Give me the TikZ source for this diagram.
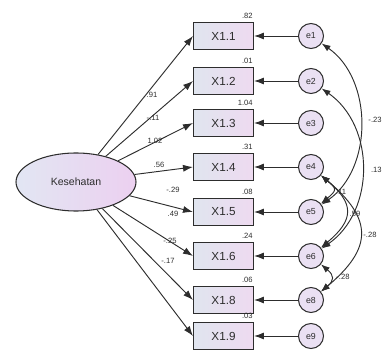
\documentclass[tikz,border=0pt]{standalone}
\usepackage{fontspec}
\setmainfont{Liberation Sans}
\usetikzlibrary{arrows.meta,shapes.geometric}
\definecolor{boxleft}{RGB}{224,229,239}
\definecolor{boxright}{RGB}{238,218,240}
\definecolor{ovalleft}{RGB}{226,230,243}
\definecolor{ovalright}{RGB}{236,208,240}
\definecolor{errfill}{RGB}{234,224,243}
\definecolor{ink}{RGB}{45,45,45}
\tikzstyle{obs}=[rectangle, draw=ink, line width=0.9pt, minimum width=1.8cm, minimum height=0.81cm, left color=boxleft, right color=boxright, text=ink, font=\fontsize{10}{12}\selectfont]
\tikzstyle{lat}=[ellipse, draw=ink, line width=0.9pt, minimum width=3.6cm, minimum height=1.74cm, left color=ovalleft, right color=ovalright, text=ink, font=\fontsize{9}{11}\selectfont]
\tikzstyle{err}=[circle, draw=ink, line width=0.9pt, minimum size=0.75cm, inner sep=0pt, fill=errfill, text=ink, font=\fontsize{7.5}{9}\selectfont]
\tikzstyle{est}=[inner sep=1pt, text=ink, font=\fontsize{6.5}{8}\selectfont]
\tikzstyle{onearrow}=[-{Latex[length=8.5pt,width=6pt]}, line width=0.8pt, draw=ink]
\tikzstyle{cov}=[{Latex[length=7.5pt,width=5.5pt]}-{Latex[length=7.5pt,width=5.5pt]}, line width=0.8pt, draw=ink]
\newcommand{\est}{\node[est]}

\begin{document}
\begin{tikzpicture}[x=0.03cm,y=0.03cm]
\useasboundingbox (0,0) rectangle (383,356);
\node[lat] (kes) at (76,174) {Kesehatan};
%indicators, errors, R squares
\foreach \i/\y/\r in {1/320/.82, 2/275/.01, 3/233/1.04, 4/189/.31, 5/144/.08, 6/100/.24, 8/56/.06, 9/20/.03}{
	\node[obs] (x\i) at (223.5,\y) {X1.\i};
	\node[err] (e\i) at (311,\y) {e\i};
	\est[anchor=south east] (r\i) at ([yshift=2pt]x\i.north east) {\r};
	\draw[onearrow] (e\i) -- (x\i);
	\draw[onearrow] (kes) -- (x\i.west);
	}
%loadings
\foreach \i/\l/\px/\py in {1/.91/152/261, 2/-.11/153/238, 3/1.02/155/215, 4/.56/159/191, 5/-.29/173/166, 6/.49/173/142, 8/-.25/170/115, 9/-.17/168/95}{
	\est (l\i) at (\px,\py) {\l};
	}
%covariances
\draw[cov] (e1) to[out=-35,in=35,looseness=1.0] (e5);
\draw[cov] (e2) to[out=-35,in=35,looseness=1.05] (e6);
\draw[cov] (e4) to[out=-40,in=40,looseness=1.9] (e5);
\draw[cov] (e4) to[out=-40,in=40,looseness=1.55] (e6);
\draw[cov] (e4) to[out=-40,in=40,looseness=1.5] (e8);
\draw[cov] (e6) to[out=-40,in=40,looseness=1.65] (e8);
\est[anchor=east] (c15) at (383,236) {-.23};
\est[anchor=east] (c26) at (383,186) {.13};
\est (c45) at (341,164) {.11};
\est (c46) at (355,142) {.59};
\est (c48) at (370,121) {-.28};
\est (c68) at (343,79) {-.28};
\end{tikzpicture}
\end{document}
